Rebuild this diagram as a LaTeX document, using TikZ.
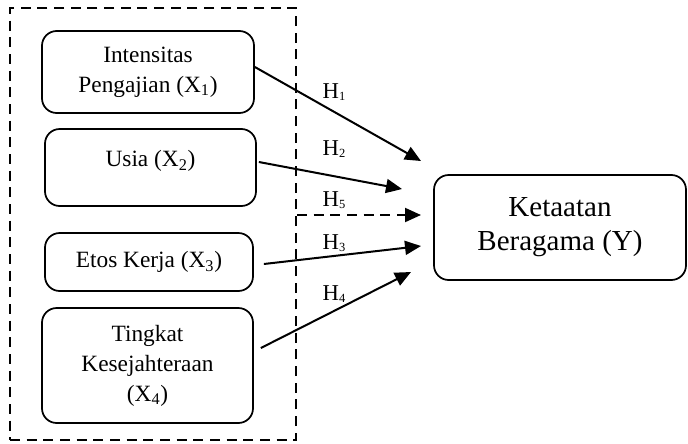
\documentclass[tikz,border=0pt]{standalone}
\usepackage{fontspec}
\setmainfont{Liberation Serif}
\usetikzlibrary{arrows.meta,calc}

\tikzset{every picture/.style={line width=0.75pt}}
\tikzset{
  varbox/.style={draw, rounded corners=11pt, line width=1.3pt, align=center, inner sep=0pt, font=\fontsize{17.5}{22.5}\selectfont},
  boxtext/.style={align=center, inner sep=0pt, font=\fontsize{17.5}{22.5}\selectfont},
  grpbox/.style={draw, line width=1.5pt, dash pattern=on 7.5pt off 5pt, inner sep=0pt},
  hlab/.style={inner sep=0pt, font=\fontsize{17}{19}\selectfont},
  hyp/.style={line width=1.5pt, -{Triangle[length=12pt,width=10.5pt]}},
}
\newcommand{\sub}[1]{\textsubscript{#1}}
\newcommand{\hsub}[1]{\raisebox{-0.15ex}{\scalebox{0.55}{#1}}}

\begin{document}
\begin{tikzpicture}[x=0.75pt,y=0.75pt,yscale=-1,xscale=1]
\useasboundingbox (0,0) rectangle (688,443);

%Shape: Dashed group
\node[grpbox, minimum width=214.5pt, minimum height=324pt] (grp) at (153,224) {};

%Shape: Rounded Rectangle
\node[varbox, minimum width=159pt, minimum height=61.5pt] (x1) at (148,72) {Intensitas\\Pengajian (X\sub{1})};
%Shape: Rounded Rectangle
\node[varbox, minimum width=158.25pt, minimum height=57.75pt] (x2) at (150.5,167.5) {};
%Shape: Rounded Rectangle
\node[varbox, minimum width=156pt, minimum height=43.5pt] (x3) at (149,262) {Etos Kerja (X\sub{3})};
%Shape: Rounded Rectangle
\node[varbox, minimum width=158.25pt, minimum height=86.25pt] (x4) at (147.5,365.5) {Tingkat\\Kesejahteraan\\(X\sub{4})};
%Shape: Rounded Rectangle
\node[varbox, minimum width=189pt, minimum height=78.75pt, font=\fontsize{21.75}{25.5}\selectfont] (y) at (560,227.5) {Ketaatan\\Beragama (Y)};

% Text Node
\node[boxtext] (x2txt) at (150.5,161) {Usia (X\sub{2})};

%Arrow ends
\coordinate (t1) at (421,161);
\coordinate (t2) at (402,189);
\coordinate (t5) at (421,215);
\coordinate (t3) at (421,246);
\coordinate (t4) at (411,272);

%Straight Lines
\draw[hyp] ($(x1.east)+(0,-5)$) -- (t1);
\draw[hyp] ($(x2.east)+(2,-5.5)$) -- (t2);
\draw[hyp, dash pattern=on 7.5pt off 5pt] (grp.east |- t5) -- (t5);
\draw[hyp] ($(x3.east)+(10,2)$) -- (t3);
\draw[hyp] ($(x4.east)+(7,-17.5)$) -- (t4);

% Text Node
\node[hlab] (h1) at (334,92) {H\hsub{1}};
% Text Node
\node[hlab] (h2) at (334,149) {H\hsub{2}};
% Text Node
\node[hlab] (h5) at (334,200) {H\hsub{5}};
% Text Node
\node[hlab] (h3) at (334,243) {H\hsub{3}};
% Text Node
\node[hlab] (h4) at (334,294) {H\hsub{4}};

\end{tikzpicture}
\end{document}
